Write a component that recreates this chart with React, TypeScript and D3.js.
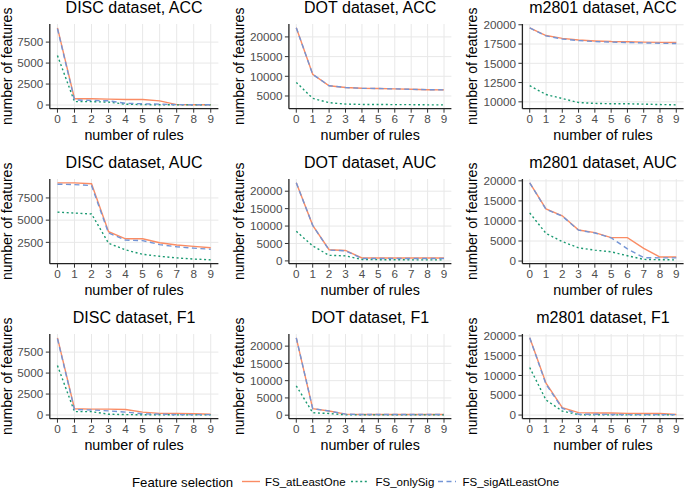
import React, { useEffect } from "react";
import * as d3 from "d3";

// ---------- data ----------
const rules = [0, 1, 2, 3, 4, 5, 6, 7, 8, 9];
const datasets = ["DISC", "DOT", "m2801"];
const metrics = ["ACC", "AUC", "F1"];
const seriesNames = ["FS_atLeastOne", "FS_onlySig", "FS_sigAtLeastOne"];

// DISC
const discAccAtLeastOne = [9200, 750, 750, 700, 650, 650, 500, 50, 30, 30];
const discAccOnlySig = [5900, 400, 400, 350, 100, 50, 30, 20, 20, 20];
const discAccSigAtLeastOne = [9100, 600, 550, 500, 200, 150, 100, 50, 30, 30];
const discAucAtLeastOne = [9200, 9200, 9100, 3700, 2900, 2900, 2450, 2200, 2050, 1900];
const discAucOnlySig = [5900, 5800, 5700, 2400, 1650, 1150, 930, 750, 620, 530];
const discAucSigAtLeastOne = [9050, 9000, 8900, 3550, 2750, 2700, 2250, 2000, 1850, 1720];
const discF1AtLeastOne = [9200, 750, 700, 700, 650, 350, 200, 200, 150, 100];
const discF1OnlySig = [5900, 400, 400, 100, 50, 30, 30, 20, 20, 20];
const discF1SigAtLeastOne = [9100, 650, 600, 500, 350, 150, 100, 50, 50, 50];

// DOT
const dotAccAtLeastOne = [22300, 10500, 7600, 7150, 6950, 6900, 6800, 6700, 6600, 6550];
const dotAccOnlySig = [8450, 4400, 3300, 2950, 2850, 2850, 2800, 2800, 2750, 2750];
const dotAccSigAtLeastOne = [22300, 10500, 7600, 7150, 6950, 6900, 6800, 6700, 6600, 6550];
const dotAucAtLeastOne = [22400, 10200, 3200, 3000, 850, 850, 850, 850, 850, 850];
const dotAucOnlySig = [8500, 4300, 1600, 1450, 400, 350, 350, 300, 300, 300];
const dotAucSigAtLeastOne = [22400, 10200, 3100, 2900, 700, 700, 700, 700, 700, 700];
const dotF1AtLeastOne = [22400, 1900, 1200, 300, 200, 200, 200, 200, 200, 200];
const dotF1OnlySig = [8500, 700, 500, 100, 100, 100, 100, 100, 100, 100];
const dotF1SigAtLeastOne = [22400, 1900, 1200, 300, 200, 200, 200, 200, 200, 200];

// m2801
const mAccAtLeastOne = [19600, 18600, 18230, 18020, 17900, 17820, 17800, 17750, 17720, 17700];
const mAccOnlySig = [12100, 10950, 10430, 9910, 9800, 9750, 9750, 9700, 9650, 9610];
const mAccSigAtLeastOne = [19600, 18550, 18150, 17950, 17820, 17750, 17700, 17650, 17600, 17560];
const mAucAtLeastOne = [19500, 13000, 11300, 7750, 7080, 5850, 5850, 3150, 1000, 1000];
const mAucOnlySig = [12000, 6900, 4850, 3300, 2720, 2300, 1320, 420, 320, 300];
const mAucSigAtLeastOne = [19500, 12900, 11200, 7700, 7000, 5800, 3050, 850, 800, 800];
const mF1AtLeastOne = [19500, 8050, 1850, 600, 500, 500, 420, 400, 400, 120];
const mF1OnlySig = [12000, 3800, 1000, 100, 60, 50, 50, 50, 50, 50];
const mF1SigAtLeastOne = [19500, 7800, 1700, 200, 200, 150, 100, 100, 100, 100];

// y tick labels per panel
const discTicksAcc = [0, 2500, 5000, 7500];
const discTicksAuc = [2500, 5000, 7500];
const discTicksF1 = [0, 2500, 5000, 7500];
const dotTicksAcc = [5000, 10000, 15000, 20000];
const dotTicksAuc = [0, 5000, 10000, 15000, 20000];
const dotTicksF1 = [0, 5000, 10000, 15000, 20000];
const mTicksAcc = [10000, 12500, 15000, 17500, 20000];
const mTicksAuc = [0, 5000, 10000, 15000, 20000];
const mTicksF1 = [0, 5000, 10000, 15000, 20000];

// panels [row][col]
const panelSeries = [
  [
    [discAccAtLeastOne, discAccOnlySig, discAccSigAtLeastOne],
    [dotAccAtLeastOne, dotAccOnlySig, dotAccSigAtLeastOne],
    [mAccAtLeastOne, mAccOnlySig, mAccSigAtLeastOne],
  ],
  [
    [discAucAtLeastOne, discAucOnlySig, discAucSigAtLeastOne],
    [dotAucAtLeastOne, dotAucOnlySig, dotAucSigAtLeastOne],
    [mAucAtLeastOne, mAucOnlySig, mAucSigAtLeastOne],
  ],
  [
    [discF1AtLeastOne, discF1OnlySig, discF1SigAtLeastOne],
    [dotF1AtLeastOne, dotF1OnlySig, dotF1SigAtLeastOne],
    [mF1AtLeastOne, mF1OnlySig, mF1SigAtLeastOne],
  ],
];
const panelTicks = [
  [discTicksAcc, dotTicksAcc, mTicksAcc],
  [discTicksAuc, dotTicksAuc, mTicksAuc],
  [discTicksF1, dotTicksF1, mTicksF1],
];

// ---------- styling / layout ----------
const W = 685;
const H = 489;
const FONT = "'Liberation Sans', Arial, Helvetica, sans-serif";
const colors = ["#FA8C64", "#1B9A72", "#7395D6"];
const dashes = ["none", "2,2.6", "5,3.5"];
const colLeft = [49.8, 288.9, 522.4];
const colRight = [218.4, 451.4, 683.6];
const yTitleX = [12.2, 243.5, 477];
const rowTop = [24, 179, 334];
const panelH = 84.7;

function Panel({ r, c }: { r: number; c: number }) {
  const series = panelSeries[r][c];
  const ticks = panelTicks[r][c];
  const top = rowTop[r];
  const bottom = top + panelH;
  const left = colLeft[c];
  const right = colRight[c];
  const all = series.flat();
  const [mn, mx] = d3.extent(all) as [number, number];
  const pad = (mx - mn) * 0.05;
  const y = d3.scaleLinear().domain([mn - pad, mx + pad]).range([bottom, top]);
  const x = d3.scaleLinear().domain([-0.45, 9.45]).range([left, right]);
  const line = d3
    .line<number>()
    .x((_, i) => x(rules[i]))
    .y((d) => y(d));
  const cx = (left + right) / 2;
  const cy = (top + bottom) / 2;
  return (
    <g>
      {/* grid */}
      {ticks.map((t) => (
        <line key={"gy" + t} x1={left} x2={right} y1={y(t)} y2={y(t)} stroke="#E8E8E8" strokeWidth={1} />
      ))}
      {rules.map((t) => (
        <line key={"gx" + t} x1={x(t)} x2={x(t)} y1={top} y2={bottom} stroke="#E8E8E8" strokeWidth={1} />
      ))}
      {/* lines */}
      {series.map((s, i) => (
        <path
          key={"s" + i}
          d={line(s) || ""}
          fill="none"
          stroke={colors[i]}
          strokeWidth={1.4}
          strokeDasharray={dashes[i]}
        />
      ))}
      {/* axes */}
      <line x1={left} x2={left} y1={top} y2={bottom} stroke="#222" strokeWidth={1.3} />
      <line x1={left} x2={right} y1={bottom} y2={bottom} stroke="#222" strokeWidth={1.3} />
      {ticks.map((t) => (
        <g key={"yt" + t}>
          <line x1={left - 4} x2={left} y1={y(t)} y2={y(t)} stroke="#333" strokeWidth={1} />
          <text x={left - 6.5} y={y(t)} dy="0.36em" textAnchor="end" fontSize={11.7} fill="#4D4D4D" fontFamily={FONT}>
            {t}
          </text>
        </g>
      ))}
      {rules.map((t) => (
        <g key={"xt" + t}>
          <line x1={x(t)} x2={x(t)} y1={bottom} y2={bottom + 4} stroke="#333" strokeWidth={1} />
          <text x={x(t)} y={bottom + 14} textAnchor="middle" fontSize={11.7} fill="#4D4D4D" fontFamily={FONT}>
            {t}
          </text>
        </g>
      ))}
      {/* titles */}
      <text x={cx} y={top - 10.7} textAnchor="middle" fontSize={16} fill="#000" fontFamily={FONT}>
        {`${datasets[c]} dataset, ${metrics[r]}`}
      </text>
      <text x={cx} y={top + 116} textAnchor="middle" fontSize={14.3} fill="#000" fontFamily={FONT}>
        number of rules
      </text>
      <text
        transform={`translate(${yTitleX[c]},${cy}) rotate(-90)`}
        textAnchor="middle"
        fontSize={14}
        fill="#000"
        fontFamily={FONT}
      >
        number of features
      </text>
    </g>
  );
}

const legendKeyX = [242, 351, 438];
const legendLabelX = [265, 375.5, 462.5];

export default function App() {
  useEffect(() => {
    document.body.style.margin = "0";
  }, []);
  return (
    <svg width={W} height={H} style={{ display: "block", background: "#fff" }}>
      <rect width={W} height={H} fill="#fff" />
      {[0, 1, 2].map((r) => [0, 1, 2].map((c) => <Panel key={`${r}-${c}`} r={r} c={c} />))}
      <text x={132} y={487.3} fontSize={13.2} fill="#000" fontFamily={FONT}>
        Feature selection
      </text>
      {seriesNames.map((n, i) => (
        <g key={n}>
          <line
            x1={legendKeyX[i]}
            x2={legendKeyX[i] + 18}
            y1={481.5}
            y2={481.5}
            stroke={colors[i]}
            strokeWidth={1.4}
            strokeDasharray={dashes[i]}
          />
          <text x={legendLabelX[i]} y={486.3} fontSize={11.5} fill="#000" fontFamily={FONT}>
            {n}
          </text>
        </g>
      ))}
    </svg>
  );
}
